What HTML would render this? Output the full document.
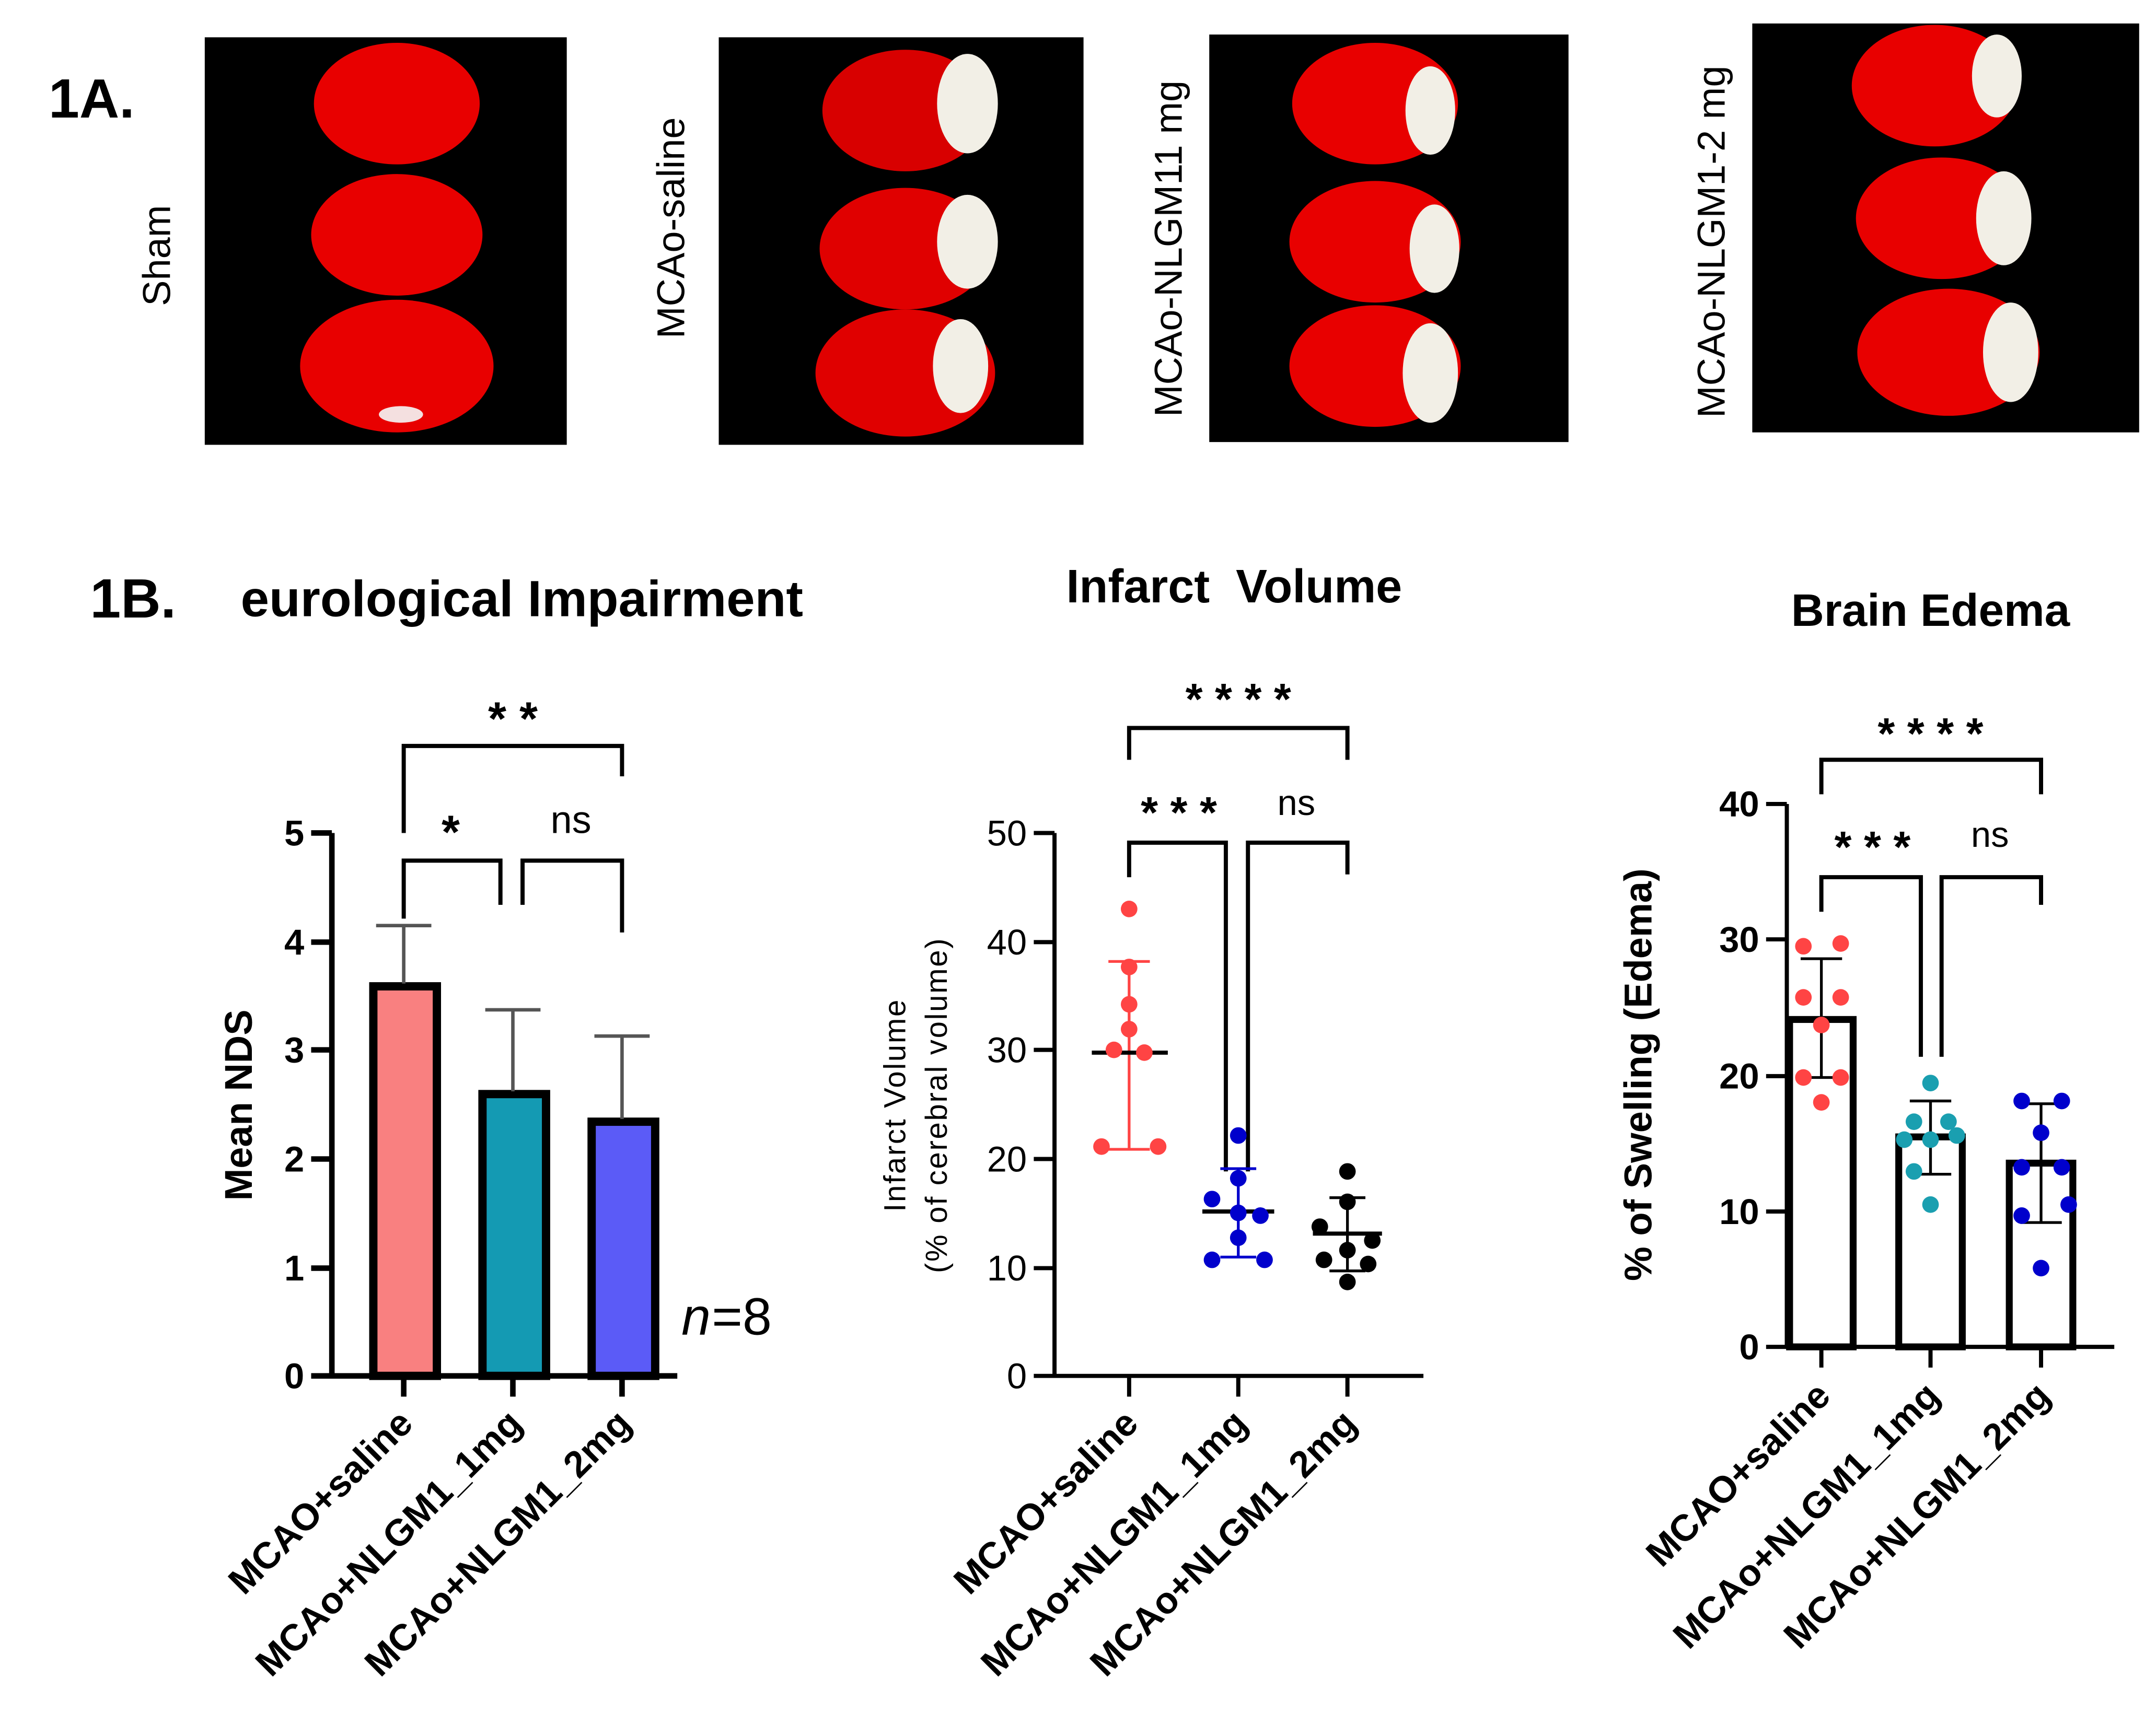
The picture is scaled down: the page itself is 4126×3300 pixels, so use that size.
<!DOCTYPE html>
<html><head><meta charset="utf-8"><style>
html,body{margin:0;padding:0;background:#fff;}
svg{display:block;}
text{font-family:"Liberation Sans",sans-serif;}
</style></head><body>
<svg width="4126" height="3300" viewBox="0 0 1560 1248" xmlns="http://www.w3.org/2000/svg">
<rect width="1560" height="1248" fill="#fff"/>
<text x="35" y="85" font-size="40" font-weight="bold">1A.</text>
<rect x="148" y="27" width="262" height="295" fill="#000"/>
<ellipse cx="287" cy="75" rx="60" ry="44" fill="#e80000"/>
<ellipse cx="287" cy="170" rx="62" ry="44" fill="#e80000"/>
<ellipse cx="287" cy="265" rx="70" ry="48" fill="#e80000"/>
<ellipse cx="290" cy="300" rx="16" ry="6" fill="#f4e0e0"/>
<rect x="520" y="27" width="264" height="295" fill="#000"/>
<ellipse cx="655" cy="80" rx="60" ry="44" fill="#d80000"/>
<ellipse cx="700" cy="75" rx="22" ry="36" fill="#f2efe6"/>
<ellipse cx="655" cy="180" rx="62" ry="44" fill="#e00000"/>
<ellipse cx="700" cy="175" rx="22" ry="34" fill="#f2efe6"/>
<ellipse cx="655" cy="270" rx="65" ry="46" fill="#e00000"/>
<ellipse cx="695" cy="265" rx="20" ry="34" fill="#f2efe6"/>
<rect x="875" y="25" width="260" height="295" fill="#000"/>
<ellipse cx="995" cy="75" rx="60" ry="44" fill="#e80000"/>
<ellipse cx="1035" cy="80" rx="18" ry="32" fill="#f2efe6"/>
<ellipse cx="995" cy="175" rx="62" ry="44" fill="#e80000"/>
<ellipse cx="1038" cy="180" rx="18" ry="32" fill="#f2efe6"/>
<ellipse cx="995" cy="265" rx="62" ry="44" fill="#e80000"/>
<ellipse cx="1035" cy="270" rx="20" ry="36" fill="#f2efe6"/>
<rect x="1268" y="17" width="280" height="296" fill="#000"/>
<ellipse cx="1400" cy="62" rx="60" ry="44" fill="#e80000"/>
<ellipse cx="1445" cy="55" rx="18" ry="30" fill="#f2efe6"/>
<ellipse cx="1405" cy="158" rx="62" ry="44" fill="#e80000"/>
<ellipse cx="1450" cy="158" rx="20" ry="34" fill="#f2efe6"/>
<ellipse cx="1410" cy="255" rx="66" ry="46" fill="#e80000"/>
<ellipse cx="1455" cy="255" rx="20" ry="36" fill="#f2efe6"/>
<g font-size="28">
<text transform="translate(123,185) rotate(-90)" text-anchor="middle">Sham</text>
<text transform="translate(495,165) rotate(-90)" text-anchor="middle">MCAo-saline</text>
<text transform="translate(855,180) rotate(-90)" text-anchor="middle">MCAo-NLGM11 mg</text>
<text transform="translate(1248,175) rotate(-90)" text-anchor="middle">MCAo-NLGM1-2 mg</text>
</g>
<text x="65" y="447" font-size="40" font-weight="bold">1B.</text>
<text x="174" y="446" font-size="37" font-weight="bold">eurological Impairment</text>
<!-- Chart 1 -->
<g stroke="#000" stroke-width="4" fill="none">
<rect x="270" y="714" width="46" height="282" fill="#F98080" stroke-width="6"/>
<rect x="349" y="792" width="46" height="204" fill="#149AB3" stroke-width="6"/>
<rect x="428" y="812" width="46" height="184" fill="#5B5BF7" stroke-width="6"/>
<path d="M240 603V996M225 603H240M225 682H240M225 760H240M225 839H240M225 918H240M225 996H490M292 996v15M371 996v15M450 996v15"/>
<path d="M292 712V670M272 670H312M371 790V731M351 731H391M450 810V750M430 750H470" stroke="#555" stroke-width="2.5"/>
<path d="M292 665V623H362V655M378 655V623H450V675M292 603V540H450V562" stroke-width="3"/>
</g>
<g font-size="26" font-weight="bold" text-anchor="end">
<text x="220" y="612">5</text><text x="220" y="691">4</text><text x="220" y="769">3</text><text x="220" y="848">2</text><text x="220" y="927">1</text><text x="220" y="1005">0</text>
</g>
<text transform="translate(182,800) rotate(-90)" text-anchor="middle" font-size="28" font-weight="bold">Mean NDS</text>
<text x="326" y="614" font-size="34" font-weight="bold" text-anchor="middle">*</text>
<text x="413" y="603" font-size="28" text-anchor="middle">ns</text>
<text x="371" y="532" font-size="34" font-weight="bold" text-anchor="middle">* *</text>
<text x="493" y="966" font-size="38" font-style="italic">n</text><text x="515" y="966" font-size="38">=8</text>
<g font-size="27" font-weight="bold" text-anchor="end">
<text transform="translate(300,1032) rotate(-45)">MCAO+saline</text>
<text transform="translate(379,1032) rotate(-45)">MCAo+NLGM1_1mg</text>
<text transform="translate(458,1032) rotate(-45)">MCAo+NLGM1_2mg</text>
</g>
<!-- Chart 2 -->
<text x="893" y="436" font-size="34" font-weight="bold" text-anchor="middle" font-family="Liberation Serif, serif" style="white-space:pre">Infarct  Volume</text>
<g stroke="#000" stroke-width="3" fill="none">
<path d="M763 603V996M748 603H763M748 682H763M748 760H763M748 839H763M748 918H763M748 996H1030M817 996v15M896 996v15M975 996v15"/>
<path d="M817 635V610H887V848M903 848V610H975V633M817 550V527H975V550"/>
<path d="M817 696V832M802 696H832M802 832H832" stroke="#f44" stroke-width="2"/>
<path d="M896 846V910M883 846H909M883 910H909" stroke="#00c" stroke-width="2"/>
<path d="M975 867V920M962 867H988M962 920H988" stroke-width="2"/>
</g>
<path d="M790 762H845M870 877H922M950 893H1000" stroke="#000" stroke-width="3"/>
<g fill="#f44"><circle cx="817" cy="658" r="6"/><circle cx="817" cy="700" r="6"/><circle cx="817" cy="727" r="6"/><circle cx="806" cy="760" r="6"/><circle cx="828" cy="762" r="6"/><circle cx="797" cy="830" r="6"/><circle cx="838" cy="830" r="6"/><circle cx="817" cy="745" r="6"/></g>
<g fill="#00c"><circle cx="896" cy="822" r="6"/><circle cx="896" cy="853" r="6"/><circle cx="877" cy="868" r="6"/><circle cx="912" cy="880" r="6"/><circle cx="896" cy="896" r="6"/><circle cx="877" cy="912" r="6"/><circle cx="915" cy="912" r="6"/><circle cx="896" cy="878" r="6"/></g>
<g fill="#000"><circle cx="975" cy="848" r="6"/><circle cx="975" cy="870" r="6"/><circle cx="955" cy="888" r="6"/><circle cx="993" cy="898" r="6"/><circle cx="975" cy="905" r="6"/><circle cx="958" cy="912" r="6"/><circle cx="990" cy="915" r="6"/><circle cx="975" cy="928" r="6"/></g>
<g font-size="26" text-anchor="end">
<text x="743" y="612">50</text><text x="743" y="691">40</text><text x="743" y="769">30</text><text x="743" y="848">20</text><text x="743" y="927">10</text><text x="743" y="1005">0</text>
</g>
<text transform="translate(655,800) rotate(-90)" text-anchor="middle" font-size="22" letter-spacing="1">Infarct Volume</text>
<text transform="translate(685,800) rotate(-90)" text-anchor="middle" font-size="22" letter-spacing="1">(% of cerebral volume)</text>
<text x="853" y="599" font-size="32" font-weight="bold" text-anchor="middle">* * *</text>
<text x="938" y="590" font-size="26" text-anchor="middle">ns</text>
<text x="896" y="517" font-size="32" font-weight="bold" text-anchor="middle">* * * *</text>
<g font-size="27" font-weight="bold" text-anchor="end">
<text transform="translate(825,1032) rotate(-45)">MCAO+saline</text>
<text transform="translate(904,1032) rotate(-45)">MCAo+NLGM1_1mg</text>
<text transform="translate(983,1032) rotate(-45)">MCAo+NLGM1_2mg</text>
</g>
<!-- Chart 3 -->
<text x="1397" y="453" font-size="33" font-weight="bold" text-anchor="middle">Brain Edema</text>
<g stroke="#000" stroke-width="3" fill="none">
<rect x="1295" y="738" width="46" height="237" stroke-width="5"/>
<rect x="1374" y="823" width="46" height="152" stroke-width="5"/>
<rect x="1454" y="842" width="46" height="133" stroke-width="5"/>
<path d="M1293 582V975M1278 582H1293M1278 680H1293M1278 779H1293M1278 877H1293M1278 975H1530M1318 975v15M1397 975v15M1477 975v15"/>
<path d="M1318 660V635H1390V765M1405 765V635H1477V655M1318 575V550H1477V575"/>
<path d="M1303 694H1333M1318 694V780M1303 780H1333M1382 797H1412M1397 797V850M1382 850H1412M1462 799H1492M1477 799V885M1462 885H1492" stroke-width="2"/>
</g>
<g fill="#f44"><circle cx="1305" cy="685" r="6"/><circle cx="1332" cy="683" r="6"/><circle cx="1305" cy="722" r="6"/><circle cx="1332" cy="722" r="6"/><circle cx="1318" cy="742" r="6"/><circle cx="1305" cy="780" r="6"/><circle cx="1332" cy="780" r="6"/><circle cx="1318" cy="798" r="6"/></g>
<g fill="#1a9fb0"><circle cx="1397" cy="784" r="6"/><circle cx="1385" cy="812" r="6"/><circle cx="1410" cy="812" r="6"/><circle cx="1378" cy="825" r="6"/><circle cx="1397" cy="825" r="6"/><circle cx="1416" cy="822" r="6"/><circle cx="1385" cy="848" r="6"/><circle cx="1397" cy="872" r="6"/></g>
<g fill="#00c"><circle cx="1463" cy="797" r="6"/><circle cx="1492" cy="797" r="6"/><circle cx="1477" cy="820" r="6"/><circle cx="1463" cy="845" r="6"/><circle cx="1492" cy="845" r="6"/><circle cx="1497" cy="872" r="6"/><circle cx="1463" cy="880" r="6"/><circle cx="1477" cy="918" r="6"/></g>
<g font-size="26" font-weight="bold" text-anchor="end">
<text x="1273" y="591">40</text><text x="1273" y="689">30</text><text x="1273" y="788">20</text><text x="1273" y="886">10</text><text x="1273" y="984">0</text>
</g>
<text transform="translate(1195,778) rotate(-90)" text-anchor="middle" font-size="28" font-weight="bold">% of Swelling (Edema)</text>
<text x="1355" y="624" font-size="32" font-weight="bold" text-anchor="middle">* * *</text>
<text x="1440" y="613" font-size="26" text-anchor="middle">ns</text>
<text x="1397" y="542" font-size="32" font-weight="bold" text-anchor="middle">* * * *</text>
<g font-size="27" font-weight="bold" text-anchor="end">
<text transform="translate(1326,1012) rotate(-45)">MCAO+saline</text>
<text transform="translate(1405,1012) rotate(-45)">MCAo+NLGM1_1mg</text>
<text transform="translate(1485,1012) rotate(-45)">MCAo+NLGM1_2mg</text>
</g>
</svg>
</body></html>
